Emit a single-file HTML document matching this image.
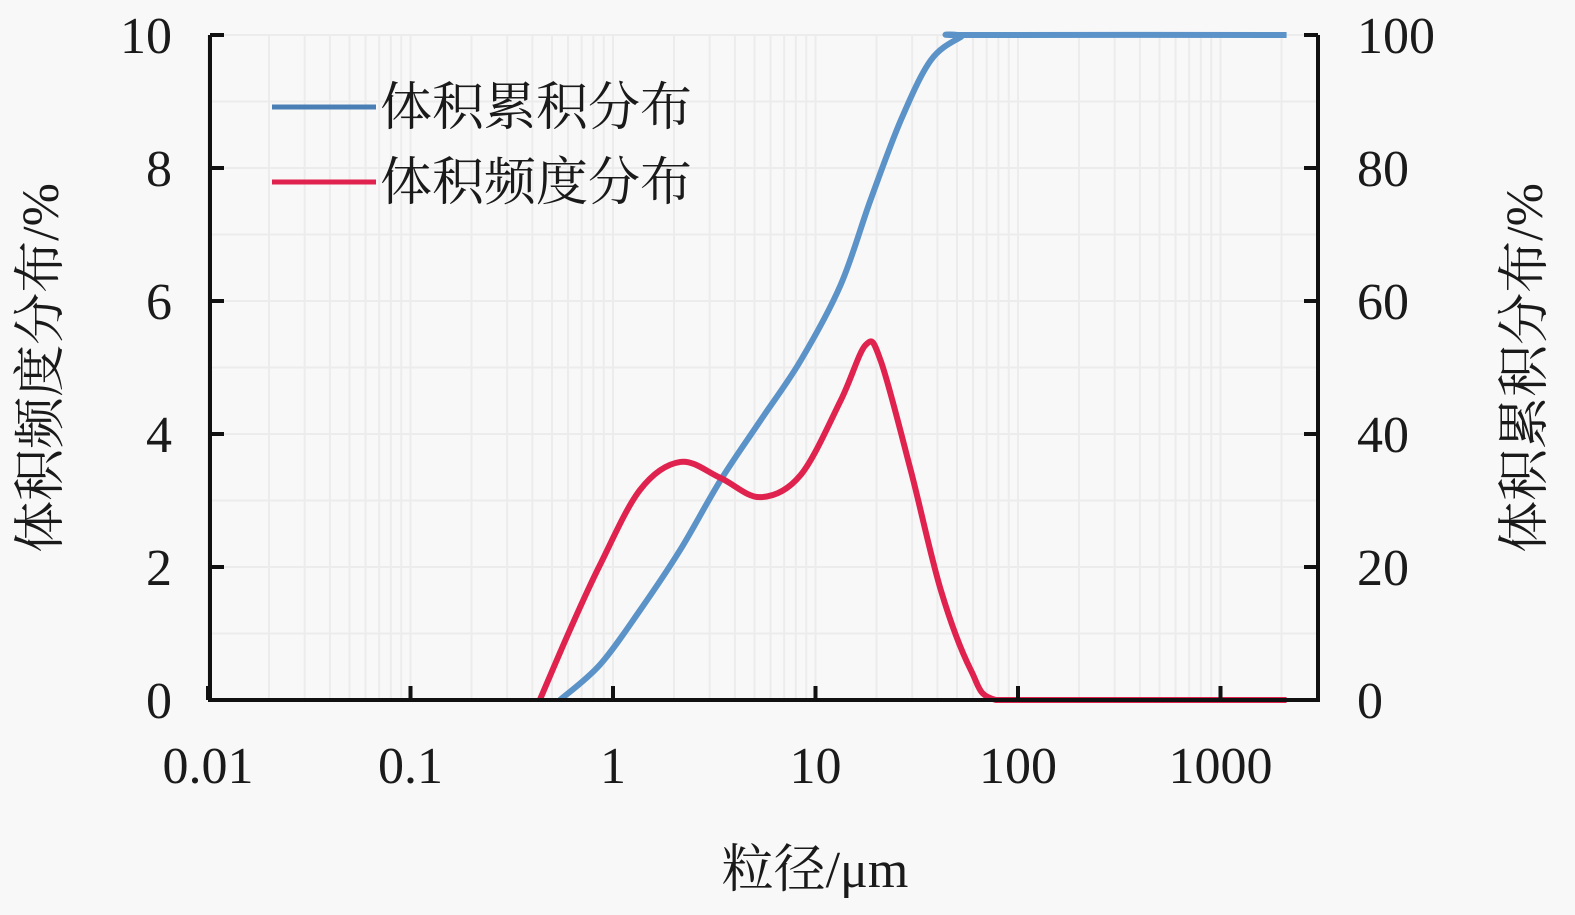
<!DOCTYPE html>
<html><head><meta charset="utf-8"><style>
html,body{margin:0;padding:0;background:#f8f8f8;}
svg text{font-family:"Liberation Serif","Noto Serif CJK SC",serif;fill:#1a1a1a;}
</style></head><body>
<svg id="chart" width="1575" height="910" xmlns="http://www.w3.org/2000/svg">
<rect width="1575" height="910" fill="#f8f8f8"/>
<g id="grid"></g>
<g id="series"></g>
<g id="axes"></g>
<g>
<line x1="272" y1="107" x2="376" y2="107" stroke="#4a7fb5" stroke-width="5"/>
<text x="380" y="125" font-size="52">体积累积分布</text>
<line x1="272" y1="182" x2="376" y2="182" stroke="#e0224e" stroke-width="5"/>
<text x="380" y="200" font-size="52">体积频度分布</text>
</g>
<text x="815" y="887" font-size="52" text-anchor="middle">粒径/μm</text>
<text transform="translate(58,368) rotate(-90)" font-size="52" text-anchor="middle">体积频度分布/%</text>
<text transform="translate(1542,368) rotate(-90)" font-size="52" text-anchor="middle">体积累积分布/%</text>
</svg>
<script>
const xTicks=[0.01,0.1,1,10,100,1000];
const xTickLabels=["0.01","0.1","1","10","100","1000"];
const yLeftTicks=[0,2,4,6,8,10];
const yRightTicks=[0,20,40,60,80,100];
const freqX=[0.435,0.612,0.862,1.36,2.15,3.39,5.34,8.43,13.3,17.7,21.0,29.5,41.6,58.5,77.8,200,2120];
const freqY=[0,1.05,2.03,3.16,3.58,3.34,3.05,3.38,4.5,5.34,5.1,3.46,1.65,0.45,0,0,0];
const cumX=[0.547,0.862,1.36,2.15,3.39,5.34,8.43,13.3,18.7,26.4,37.1,52.2,58.5,2120];
const cumY=[0,5.3,13.5,22.6,33,42,51,62.4,75.2,87.2,96.2,99.7,100,100];

const NS="http://www.w3.org/2000/svg";
const X0=210,X1=1318,Y0=700,Y1=35;
const sx=v=>613+(Math.log10(v))*202.5;
const syL=v=>Y0-(v/10)*(Y0-Y1);
const syR=v=>Y0-(v/100)*(Y0-Y1);
function mk(tag,attrs,parent){const e=document.createElementNS(NS,tag);for(const k in attrs)e.setAttribute(k,attrs[k]);parent.appendChild(e);return e;}
const grid=document.getElementById('grid'),axes=document.getElementById('axes'),series=document.getElementById('series');
for(let d=-2;d<=3;d++){for(let m=1;m<10;m++){const v=m*Math.pow(10,d);const x=sx(v);if(x>X1)continue;
 const l=mk('line',{x1:x,y1:Y1,x2:x,y2:Y0,stroke:'#ececec','stroke-width':2},grid);
 }}
for(let v=1;v<=10;v++){const y=syL(v);
 const l=mk('line',{x1:X0,y1:y,x2:X1,y2:y,stroke:'#ececec','stroke-width':2},grid);
 }
const ax=mk('path',{d:`M${X0},${Y1}V${Y0}H${X1}V${Y1}`,fill:'none',stroke:'#111','stroke-width':4},axes);

xTicks.forEach((v,i)=>{const x=sx(v);
 const t=mk('line',{x1:x,y1:Y0,x2:x,y2:Y0-14,stroke:'#111','stroke-width':4},axes);
 
 const tx=mk('text',{x:x,y:783,'font-size':52,'text-anchor':'middle'},axes);tx.textContent=xTickLabels[i];
 });
yLeftTicks.forEach(v=>{const y=syL(v);
 const t=mk('line',{x1:X0,y1:y,x2:X0+14,y2:y,stroke:'#111','stroke-width':4},axes);
 
 const tx=mk('text',{x:172,y:y+18,'font-size':52,'text-anchor':'end'},axes);tx.textContent=v;
 });
yRightTicks.forEach(v=>{const y=syR(v);
 const t=mk('line',{x1:X1,y1:y,x2:X1-14,y2:y,stroke:'#111','stroke-width':4},axes);
 
 const tx=mk('text',{x:1357,y:y+18,'font-size':52,'text-anchor':'start'},axes);tx.textContent=v;
 });
function smooth(pts){let d=`M${pts[0][0]},${pts[0][1]}`;
 for(let i=0;i<pts.length-1;i++){const p0=pts[Math.max(0,i-1)],p1=pts[i],p2=pts[i+1],p3=pts[Math.min(pts.length-1,i+2)];
  const c1=[p1[0]+(p2[0]-p0[0])/6,p1[1]+(p2[1]-p0[1])/6],c2=[p2[0]-(p3[0]-p1[0])/6,p2[1]-(p3[1]-p1[1])/6];
  d+=`C${c1[0]},${Math.min(Y0,c1[1])} ${c2[0]},${Math.min(Y0,c2[1])} ${p2[0]},${p2[1]}`;}
 return d;}
const cp=mk('path',{d:smooth(cumX.map((v,i)=>[sx(v),syR(cumY[i])])),fill:'none',stroke:'#5b93c8','stroke-width':6},series);

const fp=mk('path',{d:smooth(freqX.map((v,i)=>[sx(v),syL(freqY[i])])),fill:'none',stroke:'#e0224e','stroke-width':6},series);

</script>
</body></html>
